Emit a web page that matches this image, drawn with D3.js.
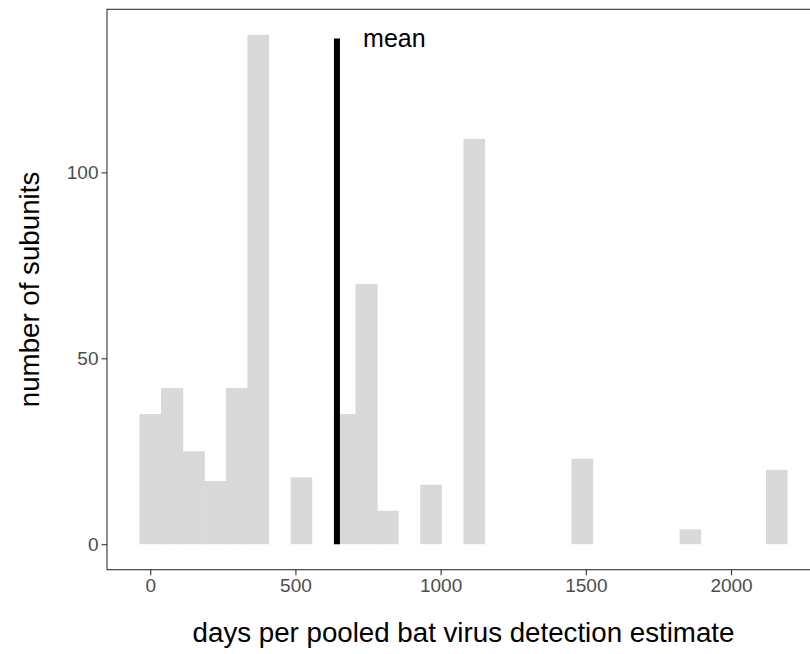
<!DOCTYPE html>
<html>
<head>
<meta charset="utf-8">
<script src="https://cdn.jsdelivr.net/npm/d3@7"></script>
<style>
  html, body { margin: 0; padding: 0; background: #ffffff; }
  svg { display: block; font-family: "Liberation Sans", Arial, Helvetica, sans-serif; }
</style>
</head>
<body>
<svg id="chart" width="810" height="654"></svg>
<script>
// ---- data ----
const binOrigin = -37.2;          // left edge of first bin (days)
const binWidth = 74.4;            // bin width (days)
const binCounts = [35, 42, 25, 17, 42, 137, 0, 18, 0, 35,
                   70, 9, 0, 16, 0, 109, 0, 0, 0, 0,
                   23, 0, 0, 0, 0, 4, 0, 0, 0, 20];
const meanValue = 643;            // mean days
const meanLineTop = 136;          // height of mean segment (count units)
const meanLabel = "mean";
const meanLabelX = 733;           // label anchor (days)
const xTicks = [0, 500, 1000, 1500, 2000];
const yTicks = [0, 50, 100];
const xTitle = "days per pooled bat virus detection estimate";
const yTitle = "number of subunits";

// ---- layout ----
const svg = d3.select("#chart");
const panel = { left: 107, top: 9.3, right: 820, bottom: 569.7 };

const bins = binCounts.map((c, i) => ({ x0: binOrigin + i * binWidth, x1: binOrigin + (i + 1) * binWidth, count: c }));
const xMin = bins[0].x0, xMax = bins[bins.length - 1].x1;
const xPad = (xMax - xMin) * 0.05;
const x = d3.scaleLinear().domain([xMin - xPad, xMax + xPad]).range([panel.left, panel.right]);
const yMax = d3.max(binCounts);
const yPad = yMax * 0.05;
const y = d3.scaleLinear().domain([-yPad, yMax + yPad]).range([panel.bottom, panel.top]);

// bars (tiny overlap with the next bin hides anti-aliasing seams)
svg.append("g").selectAll("rect")
  .data(bins.filter(d => d.count > 0))
  .join("rect")
  .attr("x", d => x(d.x0))
  .attr("width", (d, i, n) => {
    const idx = bins.indexOf(d);
    const nextFilled = idx + 1 < bins.length && bins[idx + 1].count > 0;
    return x(d.x1) - x(d.x0) + (nextFilled ? 0.6 : 0);
  })
  .attr("y", d => y(d.count))
  .attr("height", d => y(0) - y(d.count))
  .attr("fill", "#d9d9d9");

// mean line
svg.append("line")
  .attr("x1", x(meanValue)).attr("x2", x(meanValue))
  .attr("y1", y(0)).attr("y2", y(meanLineTop))
  .attr("stroke", "#000").attr("stroke-width", 6);

svg.append("text")
  .attr("x", x(meanLabelX)).attr("y", y(meanLineTop))
  .attr("dy", "0.35em")
  .attr("font-size", 25)
  .attr("fill", "#000")
  .text(meanLabel);

// panel border
svg.append("rect")
  .attr("x", panel.left).attr("y", panel.top)
  .attr("width", panel.right - panel.left).attr("height", panel.bottom - panel.top)
  .attr("fill", "none").attr("stroke", "#333333").attr("stroke-width", 1.1);

// axes
const xAxis = svg.append("g")
  .attr("transform", `translate(0,${panel.bottom})`)
  .call(d3.axisBottom(x).tickValues(xTicks).tickSize(5.5).tickPadding(3).tickFormat(d3.format("d")));
const yAxis = svg.append("g")
  .attr("transform", `translate(${panel.left},0)`)
  .call(d3.axisLeft(y).tickValues(yTicks).tickSize(5.5).tickPadding(3).tickFormat(d3.format("d")));
[xAxis, yAxis].forEach(g => {
  g.select(".domain").remove();
  g.selectAll(".tick line").attr("stroke", "#333333").attr("stroke-width", 1.1);
  g.selectAll(".tick text").attr("fill", "#4d4d4d").attr("font-size", 19)
    .attr("font-family", "'Liberation Sans', Arial, sans-serif");
});

// titles
svg.append("text")
  .attr("x", (panel.left + panel.right) / 2).attr("y", 642)
  .attr("text-anchor", "middle").attr("font-size", 27.7).attr("fill", "#000")
  .text(xTitle);
svg.append("text")
  .attr("transform", `translate(38.5,${(panel.top + panel.bottom) / 2}) rotate(-90)`)
  .attr("text-anchor", "middle").attr("font-size", 27.7).attr("fill", "#000")
  .text(yTitle);
</script>
</body>
</html>
